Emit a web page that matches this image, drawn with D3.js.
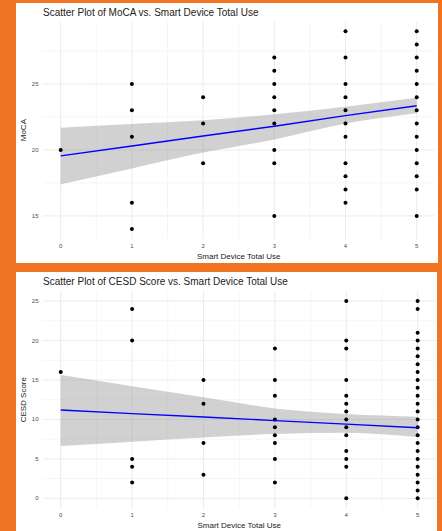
<!DOCTYPE html>
<html>
<head>
<meta charset="utf-8">
<script src="https://cdn.jsdelivr.net/npm/d3@7"></script>
<style>
  html, body { margin: 0; padding: 0; background: #f07422; }
  svg { display: block; }
  text { font-family: "Liberation Sans", Arial, sans-serif; }
</style>
</head>
<body>
<div id="chart"></div>
<script>
// use levels shared by both plots
var useLevels = [0, 1, 2, 3, 4, 5];

// MoCA scores, one list per use level
var mocaByUse = [
  [20],
  [25, 23, 21, 16, 14],
  [24, 22, 19],
  [27, 26, 25, 24, 23, 22, 20, 19, 15],
  [29, 27, 25, 24, 23, 22, 21, 19, 18, 17, 16],
  [29, 28, 27, 26, 25, 24, 23, 22, 21, 20, 19, 18, 17, 15]
];
// lm fit and its 95% band, read at each use level
var mocaFit   = [19.55, 20.30, 21.06, 21.80, 22.60, 23.35];
var mocaUpper = [21.69, 21.97, 22.25, 22.70, 23.28, 23.96];
var mocaLower = [17.40, 18.60, 19.80, 20.80, 22.00, 22.78];

// CESD scores
var cesdByUse = [
  [16],
  [24, 20, 5, 4, 2],
  [15, 12, 7, 3],
  [19, 15, 13, 10, 9, 8, 7, 5, 2],
  [25, 20, 19, 15, 13, 12, 11, 10, 9, 8, 6, 5, 4, 0],
  [25, 24, 21, 20, 19, 18, 17, 16, 15, 14, 13, 12, 11, 10, 9, 8, 7, 6, 5, 4, 3, 2, 1, 0]
];
var cesdFit   = [11.19, 10.74, 10.30, 9.85, 9.40, 8.95];
var cesdUpper = [15.63, 14.22, 12.81, 11.40, 10.68, 10.34];
var cesdLower = [6.63, 7.17, 7.72, 8.15, 8.30, 7.73];

var mocaTicks = [15, 20, 25];
var cesdTicks = [0, 5, 10, 15, 20, 25];

var width = 442, height = 531;

var svg = d3.select("#chart").append("svg")
    .attr("width", width)
    .attr("height", height);

svg.append("rect")
    .attr("width", width)
    .attr("height", height)
    .attr("fill", "#f07422");

function drawPanel(cfg) {
  var g = svg.append("g");

  // white card
  g.append("rect")
      .attr("x", cfg.box[0]).attr("y", cfg.box[1])
      .attr("width", cfg.box[2]).attr("height", cfg.box[3])
      .attr("fill", "#ffffff");

  var x = d3.scaleLinear().domain([-0.25, 5.25]).range(cfg.xRange);
  var y = d3.scaleLinear().domain(cfg.yDomain).range(cfg.yRange);

  var step = cfg.yTicks[1] - cfg.yTicks[0];
  var minorY = cfg.yTicks.map(function(t) { return t + step / 2; })
      .concat([cfg.yTicks[0] - step / 2])
      .filter(function(t) { return t > cfg.yDomain[0] && t < cfg.yDomain[1]; });
  var minorX = d3.range(0.5, 5, 1);

  // grid, minor then major
  g.selectAll("line.minx").data(minorX).enter().append("line")
      .attr("x1", x).attr("x2", x)
      .attr("y1", cfg.yRange[0]).attr("y2", cfg.yRange[1])
      .attr("stroke", "#f2f2f2").attr("stroke-width", 0.8);
  g.selectAll("line.miny").data(minorY).enter().append("line")
      .attr("y1", y).attr("y2", y)
      .attr("x1", cfg.xRange[0]).attr("x2", cfg.xRange[1])
      .attr("stroke", "#f2f2f2").attr("stroke-width", 0.8);
  g.selectAll("line.majx").data(useLevels).enter().append("line")
      .attr("x1", x).attr("x2", x)
      .attr("y1", cfg.yRange[0]).attr("y2", cfg.yRange[1])
      .attr("stroke", "#ebebeb").attr("stroke-width", 1);
  g.selectAll("line.majy").data(cfg.yTicks).enter().append("line")
      .attr("y1", y).attr("y2", y)
      .attr("x1", cfg.xRange[0]).attr("x2", cfg.xRange[1])
      .attr("stroke", "#ebebeb").attr("stroke-width", 1);

  // confidence band
  var band = useLevels.map(function(u, i) {
    return {u: u, lo: cfg.lower[i], hi: cfg.upper[i], fit: cfg.fit[i]};
  });
  g.append("path")
      .datum(band)
      .attr("fill", "#999999")
      .attr("fill-opacity", 0.45)
      .attr("d", d3.area()
        .curve(d3.curveMonotoneX)
        .x(function(d) { return x(d.u); })
        .y0(function(d) { return y(d.lo); })
        .y1(function(d) { return y(d.hi); }));

  // points
  var pts = [];
  cfg.byUse.forEach(function(vals, i) {
    vals.forEach(function(v) { pts.push({u: useLevels[i], v: v}); });
  });
  g.selectAll("circle").data(pts).enter().append("circle")
      .attr("cx", function(d) { return x(d.u); })
      .attr("cy", function(d) { return y(d.v); })
      .attr("r", 2)
      .attr("fill", "#000");

  // fitted line
  g.append("path")
      .datum(band)
      .attr("fill", "none")
      .attr("stroke", "#0000ff")
      .attr("stroke-width", 1.4)
      .attr("d", d3.line()
        .x(function(d) { return x(d.u); })
        .y(function(d) { return y(d.fit); }));

  // tick labels
  g.selectAll("text.yt").data(cfg.yTicks).enter().append("text")
      .attr("x", 38.5)
      .attr("y", function(d) { return y(d) + 2; })
      .attr("text-anchor", "end")
      .attr("font-size", 6)
      .attr("fill", "#4d4d4d")
      .text(function(d) { return d; });
  g.selectAll("text.xt").data(useLevels).enter().append("text")
      .attr("x", x)
      .attr("y", cfg.yRange[0] + 9)
      .attr("text-anchor", "middle")
      .attr("font-size", 6)
      .attr("fill", "#4d4d4d")
      .text(function(d) { return d; });

  // titles
  g.append("text")
      .attr("x", 43)
      .attr("y", cfg.box[1] + 13)
      .attr("font-size", 10)
      .attr("fill", "#222")
      .text(cfg.title);
  g.append("text")
      .attr("x", (cfg.xRange[0] + cfg.xRange[1]) / 2)
      .attr("y", cfg.yRange[0] + 19.5)
      .attr("text-anchor", "middle")
      .attr("font-size", 8)
      .attr("fill", "#222")
      .text("Smart Device Total Use");
  var yc = (cfg.yRange[0] + cfg.yRange[1]) / 2;
  g.append("text")
      .attr("transform", "translate(26," + yc + ") rotate(-90)")
      .attr("text-anchor", "middle")
      .attr("font-size", 8)
      .attr("fill", "#222")
      .text(cfg.yLabel);
}

drawPanel({
  box: [16, 3, 422, 260],
  xRange: [42.9, 434.5],
  yDomain: [13.25, 29.75],
  yRange: [239, 21.3],
  yTicks: mocaTicks,
  byUse: mocaByUse,
  fit: mocaFit, upper: mocaUpper, lower: mocaLower,
  title: "Scatter Plot of MoCA vs. Smart Device Total Use",
  yLabel: "MoCA"
});

drawPanel({
  box: [16, 272, 421, 259],
  xRange: [42.9, 435.5],
  yDomain: [-1.25, 26.25],
  yRange: [508.2, 291.2],
  yTicks: cesdTicks,
  byUse: cesdByUse,
  fit: cesdFit, upper: cesdUpper, lower: cesdLower,
  title: "Scatter Plot of CESD Score vs. Smart Device Total Use",
  yLabel: "CESD Score"
});
</script>
</body>
</html>
